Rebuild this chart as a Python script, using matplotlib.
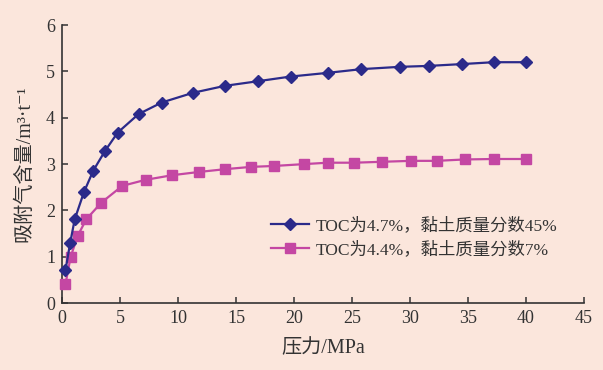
import matplotlib

matplotlib.use("Agg")
import matplotlib.pyplot as plt

FONT = ["Liberation Serif", "Noto Sans CJK SC", "DejaVu Serif"]
plt.rcParams["font.family"] = FONT
plt.rcParams["axes.unicode_minus"] = False

# TOC 4.7%, clay 45%
p_blue = [0.3, 0.7, 1.1, 1.9, 2.7, 3.7, 4.8, 6.6, 8.6, 11.3,
          14.05, 16.9, 19.7, 22.9, 25.8, 29.1, 31.6, 34.5, 37.2, 40.0]
v_blue = [0.71, 1.29, 1.81, 2.40, 2.86, 3.28, 3.68, 4.08, 4.33, 4.54,
          4.69, 4.79, 4.89, 4.97, 5.05, 5.10, 5.12, 5.16, 5.20, 5.20]

# TOC 4.4%, clay 7%
p_pink = [0.3, 0.75, 1.35, 2.1, 3.4, 5.2, 7.2, 9.5, 11.8,
          14.05, 16.3, 18.3, 20.9, 22.9, 25.2, 27.6, 30.1, 32.3, 34.7, 37.2, 40.0]
v_pink = [0.41, 1.00, 1.45, 1.81, 2.17, 2.53, 2.66, 2.76, 2.83,
          2.89, 2.94, 2.96, 3.00, 3.03, 3.03, 3.05, 3.07, 3.07, 3.10, 3.11, 3.11]

labels = ["TOC为4.7%，黏土质量分数45%", "TOC为4.4%，黏土质量分数7%"]

BG = "#fbe6dc"
fig = plt.figure(figsize=(6.03, 3.70), dpi=100, facecolor=BG)
ax = fig.add_axes([0.1028, 0.181, 0.8657, 0.751])
ax.set_facecolor(BG)

ax.plot(p_blue, v_blue, color="#2b2a8a", lw=1.6, marker="D", ms=6,
        label=labels[0], clip_on=False, zorder=4)
ax.plot(p_pink, v_pink, color="#c447a3", lw=1.6, marker="s", ms=6.5,
        label=labels[1], clip_on=False, zorder=3)

ax.set_xlim(0, 45)
ax.set_ylim(0, 6)
ax.set_xticks(range(0, 50, 5))
ax.set_yticks(range(0, 7))
for s in ("top", "right"):
    ax.spines[s].set_visible(False)
for s in ("left", "bottom"):
    ax.spines[s].set_color("#333333")
    ax.spines[s].set_linewidth(1.2)
ax.tick_params(direction="in", length=4, width=1.1, color="#333333",
               labelsize=13, labelcolor="#333333", pad=5)

ax.set_xlabel("压力/MPa", fontsize=14.5, color="#333333", labelpad=9)
ax.set_ylabel("吸附气含量/m³·t⁻¹", fontsize=14.5, color="#333333", labelpad=8)

leg = ax.legend(loc="upper left", bbox_to_anchor=(0.37, 0.365), frameon=False,
                fontsize=12.5, handlelength=2.2, labelspacing=0.4,
                handletextpad=0.4, labelcolor="#333333")

fig.savefig("out.png", dpi=100, facecolor=BG)
